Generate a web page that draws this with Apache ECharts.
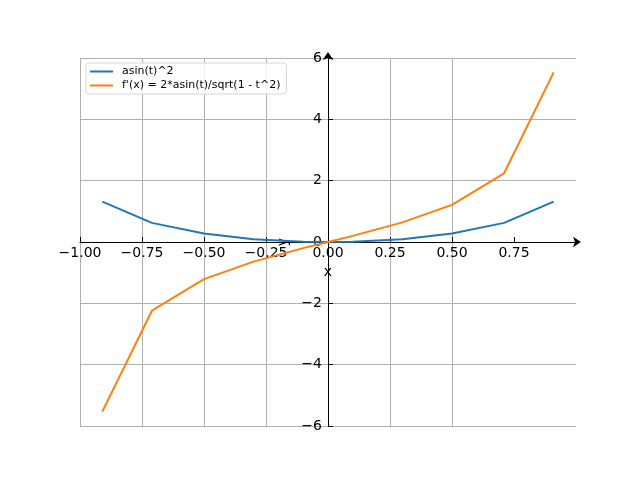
<!DOCTYPE html>
<html>
<head>
<meta charset="utf-8">
<script src="https://cdn.jsdelivr.net/npm/echarts@6/dist/echarts.min.js"></script>
<style>html,body{margin:0;padding:0;background:#fff}#c{width:640px;height:480px}</style>
</head>
<body>
<div id="c"></div>
<script>
var tValues = [-0.91, -0.71, -0.5, -0.3, -0.1, 0, 0.1, 0.3, 0.5, 0.71, 0.91];
var asinSq = [1.316, 0.623, 0.274, 0.093, 0.010, 0, 0.010, 0.093, 0.274, 0.623, 1.316];
var deriv = [-5.53, -2.24, -1.21, -0.64, -0.20, 0, 0.20, 0.64, 1.21, 2.24, 5.53];
var xTicks = [-1, -0.75, -0.5, -0.25, 0, 0.25, 0.5, 0.75];
var seriesNames = ['asin(t)^2', "f'(x) = 2*asin(t)/sqrt(1 - t^2)"];
var FONT = 'DejaVu Sans';
function minus(s){ return String(s).replace('-', '\u2212'); }
function pairs(xs, ys){ return xs.map(function(x,i){ return [x, ys[i]]; }); }

var chart = echarts.init(document.getElementById('c'), null, {renderer:'canvas'});
chart.setOption({
  animation: false,
  backgroundColor: '#fff',
  textStyle: {fontFamily: FONT},
  grid: {left: 80, top: 58, width: 496, height: 368, containLabel: false},
  legend: {
    left: 86, top: 63, orient: 'vertical',
    icon: 'rect', itemWidth: 23, itemHeight: 2, itemGap: 3,
    padding: [3, 6, 3, 4],
    backgroundColor: 'rgba(255,255,255,0.8)',
    borderColor: '#d6d6d6', borderWidth: 1, borderRadius: 3,
    textStyle: {fontFamily: FONT, fontSize: 11, color: '#000', padding: [0,0,0,4]},
    data: seriesNames
  },
  xAxis: {
    type: 'value', min: -1, max: 1, interval: 0.25,
    position: 'bottom', offset: -184,
    name: 'x', nameLocation: 'middle', nameGap: 21,
    nameTextStyle: {fontFamily: FONT, fontSize: 14, color: '#000'},
    axisLine: {onZero: false, lineStyle: {color: '#000', width: 1}, symbol: ['none','arrow'], symbolSize: [8, 8], symbolOffset: [0, 5]},
    axisTick: {show: true, inside: true, length: 5, lineStyle: {color: '#000'}, customValues: xTicks},
    axisLabel: {margin: 4, fontFamily: FONT, fontSize: 14, color: '#000', showMinLabel: true, showMaxLabel: true,
      customValues: xTicks,
      formatter: function(v){ return v >= 0.999 ? '' : minus(v.toFixed(2)); }},
    splitLine: {show: true, showMaxLine: false, lineStyle: {color: '#b0b0b0', width: 1}}
  },
  yAxis: {
    type: 'value', min: -6, max: 6, interval: 2,
    position: 'left', offset: -248,
    name: 'y', nameLocation: 'middle', nameGap: 34, nameRotate: 90,
    nameTextStyle: {fontFamily: FONT, fontSize: 14, color: '#000'},
    axisLine: {onZero: false, lineStyle: {color: '#000', width: 1}, symbol: ['none','arrow'], symbolSize: [8, 8], symbolOffset: [0, 6]},
    axisTick: {show: true, inside: true, length: 5, lineStyle: {color: '#000'}},
    axisLabel: {margin: 6, fontFamily: FONT, fontSize: 14, color: '#000', showMinLabel: true, showMaxLabel: true,
      formatter: function(v){ return minus(v); }},
    splitLine: {show: true, lineStyle: {color: '#b0b0b0', width: 1}}
  },
  series: [
    {name: seriesNames[0], type: 'line', data: pairs(tValues, asinSq), symbol: 'none', color: '#1f77b4', lineStyle: {width: 2, color: '#1f77b4'}, z: 3},
    {name: seriesNames[1], type: 'line', data: pairs(tValues, deriv), symbol: 'none', color: '#ff7f0e', lineStyle: {width: 2, color: '#ff7f0e'}, z: 4}
  ]
});
</script>
</body>
</html>
